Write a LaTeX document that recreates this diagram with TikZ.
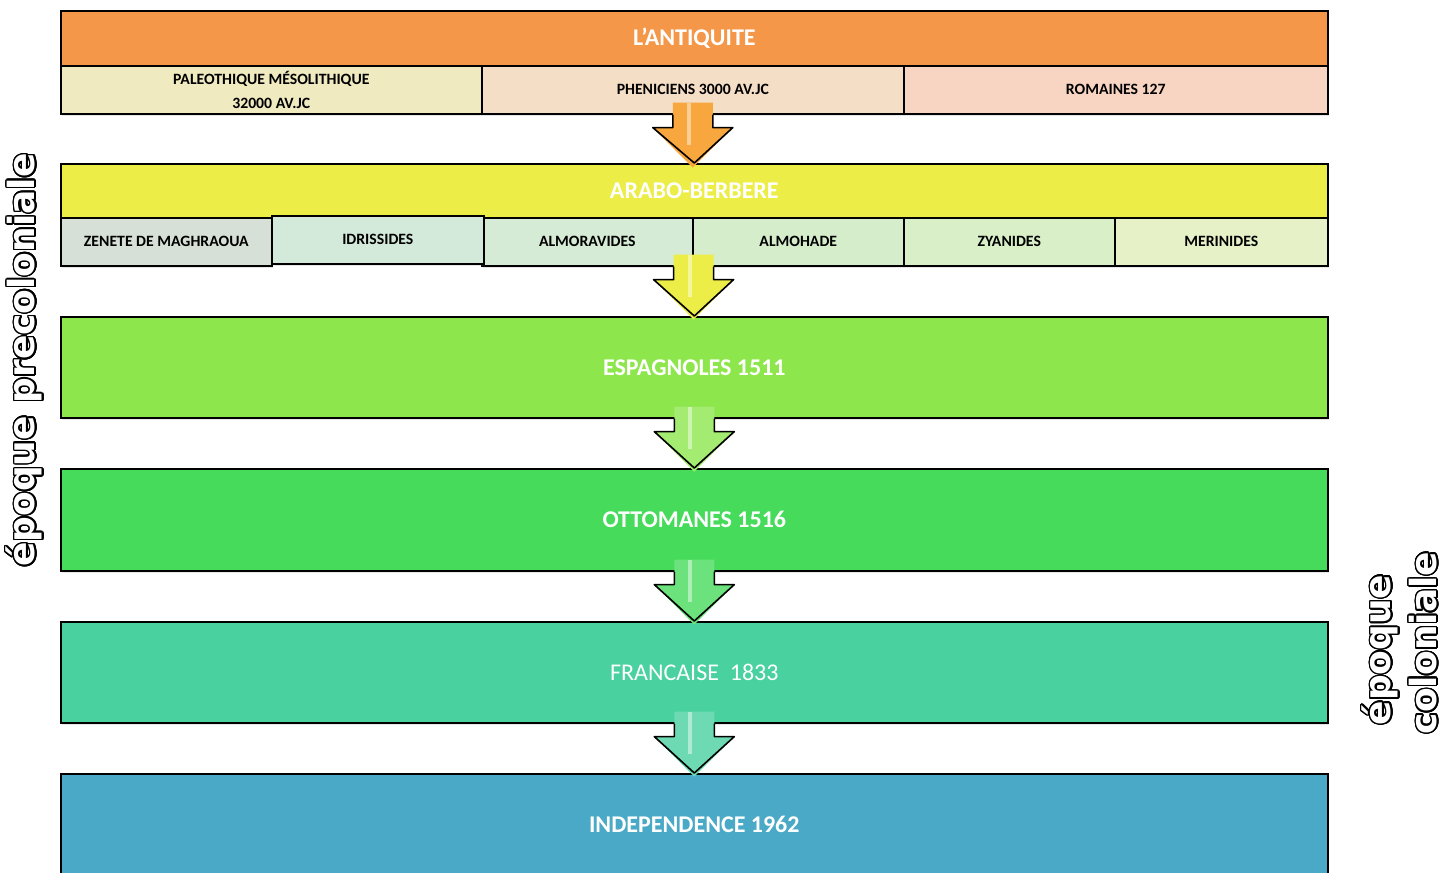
\documentclass[tikz,border=0pt]{standalone}
\usepackage{fontspec}
\setmainfont{Carlito}
\newfontfamily\epoquefont{DejaVu Sans}
\usepackage[copies]{contour}
\contourlength{1.1pt}
\contournumber{24}
\usetikzlibrary{calc,shadows}
\definecolor{antiq}{RGB}{245,151,73}
\definecolor{paleo}{RGB}{240,234,192}
\definecolor{phen}{RGB}{245,222,198}
\definecolor{romain}{RGB}{248,213,194}
\definecolor{arabo}{RGB}{237,237,72}
\definecolor{zenete}{RGB}{214,224,214}
\definecolor{idris}{RGB}{211,233,218}
\definecolor{almora}{RGB}{213,235,213}
\definecolor{almoh}{RGB}{214,237,204}
\definecolor{zyan}{RGB}{216,239,200}
\definecolor{merin}{RGB}{230,241,200}
\definecolor{espa}{RGB}{142,230,77}
\definecolor{otto}{RGB}{70,219,90}
\definecolor{franc}{RGB}{74,209,160}
\definecolor{indep}{RGB}{74,169,198}
\tikzstyle{headbox}=[draw=black,line width=1.2pt,anchor=north west,inner sep=0pt,text=white,font=\bfseries\fontsize{18}{21}\selectfont,
   drop shadow={opacity=0.2,shadow xshift=1pt,shadow yshift=-1.5pt}]
\tikzstyle{subbox}=[draw=black,line width=1.2pt,anchor=north west,inner sep=0pt,align=center,font=\bfseries\fontsize{11.8}{18}\selectfont,
   drop shadow={opacity=0.2,shadow xshift=1pt,shadow yshift=-1.5pt}]
\tikzstyle{epoque}=[rotate=90,font=\epoquefont\bfseries\fontsize{27}{27}\selectfont]
\newcommand{\hollow}[1]{\contour{black}{\textcolor{white}{#1}}}
\newcommand{\timearrow}[3]{ % Syntax: {point at bottom of box above} {box below} {colour}
\fill[#3] ($(#1)+(-20,-12)$) -- ($(#1)+(-20,13)$) -- ($(#1)+(-40,13)$)
   -- ($(#1)+(0,53)$) -- ($(#1)+(40,13)$) -- ($(#1)+(20,13)$) -- ($(#1)+(20,-12)$) -- cycle;
\fill[white,opacity=0.45] ($(#1)+(-6,-12)$) rectangle ($(#1)+(-2,30)$);
\draw[line width=1.2pt,line join=round] ($(#1)+(-20,0)$) -- ($(#1)+(-20,13)$) -- ($(#1)+(-40,13)$)
   -- (#2.north) -- ($(#1)+(40,13)$) -- ($(#1)+(20,13)$) -- ($(#1)+(20,0)$);
}
\begin{document}
\begin{tikzpicture}[x=0.75pt,y=-0.75pt]
\useasboundingbox (0,0) rectangle (1446,872);
\begin{scope}
\clip (0,0) rectangle (1446,872);
% l'antiquite
\node[headbox,fill=antiq,minimum width=1267*0.75pt,minimum height=55*0.75pt] (antiq) at (60,10) {L'ANTIQUITE};
\node[subbox,fill=paleo,minimum width=421*0.75pt,minimum height=48*0.75pt] (paleo) at (60,65) {PALEOTHIQUE MÉSOLITHIQUE\\32000 AV.JC};
\node[subbox,fill=phen,minimum width=422*0.75pt,minimum height=48*0.75pt] (phen) at (481,65) {PHENICIENS 3000 AV.JC};
\node[subbox,fill=romain,minimum width=424*0.75pt,minimum height=48*0.75pt] (romain) at (903,65) {ROMAINES 127};
% arabo-berbere
\node[headbox,fill=arabo,minimum width=1267*0.75pt,minimum height=54*0.75pt] (arabo) at (60,163) {ARABO-BERBERE};
\node[subbox,fill=zenete,minimum width=211*0.75pt,minimum height=48*0.75pt] (zenete) at (60,217) {ZENETE DE MAGHRAOUA};
\node[subbox,fill=almora,minimum width=211*0.75pt,minimum height=48*0.75pt] (almora) at (481,217) {ALMORAVIDES};
\node[subbox,fill=almoh,minimum width=211*0.75pt,minimum height=48*0.75pt] (almoh) at (692,217) {ALMOHADE};
\node[subbox,fill=zyan,minimum width=211*0.75pt,minimum height=48*0.75pt] (zyan) at (903,217) {ZYANIDES};
\node[subbox,fill=merin,minimum width=213*0.75pt,minimum height=48*0.75pt] (merin) at (1114,217) {MERINIDES};
\node[subbox,fill=idris,minimum width=212*0.75pt,minimum height=48*0.75pt] (idris) at (271,215) {IDRISSIDES};
\coordinate (arabobot) at (almora.south east);
% the rest
\node[headbox,fill=espa,minimum width=1267*0.75pt,minimum height=101*0.75pt] (espa) at (60,316) {ESPAGNOLES 1511};
\node[headbox,fill=otto,minimum width=1267*0.75pt,minimum height=102*0.75pt] (otto) at (60,468) {OTTOMANES 1516};
\node[headbox,fill=franc,font=\fontsize{18}{21}\selectfont,minimum width=1267*0.75pt,minimum height=101*0.75pt] (franc) at (60,621) {FRANCAISE~~1833};
\node[headbox,fill=indep,minimum width=1267*0.75pt,minimum height=101*0.75pt] (indep) at (60,773) {INDEPENDENCE 1962};
% arrows
\timearrow{phen.south}{arabo}{antiq!85!yellow}
\timearrow{arabobot}{espa}{arabo}
\timearrow{espa.south}{otto}{espa!80!white}
\timearrow{otto.south}{franc}{otto!80!white}
\timearrow{franc.south}{indep}{franc!80!white}
\end{scope}
% epoques
\node[epoque] (precol) at (25,360) {\hollow{époque precoloniale}};
\node[epoque] (epq) at (1381,650) {\hollow{époque}};
\node[epoque] (colo) at (1424,643) {\hollow{coloniale}};
\end{tikzpicture}
\end{document}
